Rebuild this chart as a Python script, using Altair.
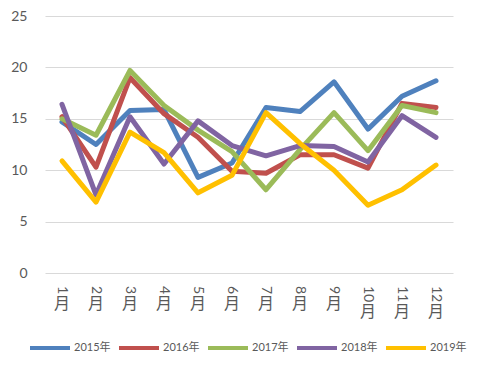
import altair as alt
import pandas as pd

months = ["1月", "2月", "3月", "4月", "5月", "6月", "7月", "8月", "9月", "10月", "11月", "12月"]
years = ["2015年", "2016年", "2017年", "2018年", "2019年"]
colors = ["#4F81BD", "#C0504D", "#9BBB59", "#8064A2", "#FFC000"]

v2015 = [14.7, 12.5, 15.8, 15.9, 9.3, 10.7, 16.1, 15.7, 18.6, 14.0, 17.2, 18.7]
v2016 = [15.2, 10.3, 19.0, 15.5, 13.2, 9.9, 9.7, 11.5, 11.5, 10.2, 16.5, 16.1]
v2017 = [15.0, 13.4, 19.7, 16.3, 13.9, 11.8, 8.1, 12.0, 15.6, 11.9, 16.3, 15.6]
v2018 = [16.4, 7.6, 15.2, 10.6, 14.8, 12.4, 11.4, 12.4, 12.3, 10.8, 15.3, 13.2]
v2019 = [10.9, 6.9, 13.7, 11.7, 7.8, 9.5, 15.6, 12.6, 10.0, 6.6, 8.1, 10.5]

series = [v2015, v2016, v2017, v2018, v2019]
rows = []
for y, vals in zip(years, series):
    for i, (m, v) in enumerate(zip(months, vals)):
        rows.append({"月份": m, "年份": y, "值": v, "order": i})
df = pd.DataFrame(rows)
mdf = pd.DataFrame({"月份": months})

FONT = "Lato, 'Noto Sans CJK SC', sans-serif"
W, H = 408, 257

xscale = alt.Scale(domain=months, padding=0.5)

lines = alt.Chart(df).mark_line(strokeWidth=5, strokeCap="round", strokeJoin="round").encode(
    x=alt.X("月份:N", scale=xscale, sort=months,
            axis=alt.Axis(labels=False, ticks=False, domain=False, title=None, grid=False)),
    y=alt.Y("值:Q", scale=alt.Scale(domain=[0, 25], nice=False),
            axis=alt.Axis(values=[0, 5, 10, 15, 20, 25], title=None, domain=False, ticks=False,
                          tickSize=0, labelPadding=18, labelFontSize=14, labelColor="#595959",
                          labelFont=FONT, gridColor="#D9D9D9", gridWidth=1)),
    color=alt.Color("年份:N", scale=alt.Scale(domain=years, range=colors),
                    legend=alt.Legend(title=None, orient="none", direction="horizontal",
                                      legendX=-17, legendY=310, symbolType="stroke",
                                      symbolSize=1600, symbolStrokeWidth=4, labelFontSize=11,
                                      labelColor="#595959", labelFont=FONT, labelOffset=2,
                                      columnPadding=0, padding=0)),
    order=alt.Order("order:Q"),
)

digits = alt.Chart(mdf).transform_calculate(
    num="replace(datum['月份'], '月', '')"
).mark_text(angle=90, align="left", baseline="middle", fontSize=14, color="#595959", font=FONT).encode(
    x=alt.X("月份:N", scale=xscale, sort=months),
    y=alt.value(H + 13),
    text="num:N",
)

yue = alt.Chart(mdf).transform_calculate(
    num="replace(datum['月份'], '月', '')",
    ly="%d + length(datum.num) * 8" % (H + 15),
    t="'月'",
).mark_text(align="center", baseline="top", fontSize=16, color="#595959", font=FONT).encode(
    x=alt.X("月份:N", scale=xscale, sort=months),
    y=alt.Y("ly:Q", scale=None),
    text="t:N",
)

chart = alt.layer(lines, digits, yue).properties(
    width=W, height=H,
    autosize=alt.AutoSizeParams(type="none"),
    padding={"left": 37, "top": 8, "right": 18, "bottom": 88},
).configure_view(stroke=None)

chart.save("out.html", embed_options={"renderer": "svg", "actions": False})
